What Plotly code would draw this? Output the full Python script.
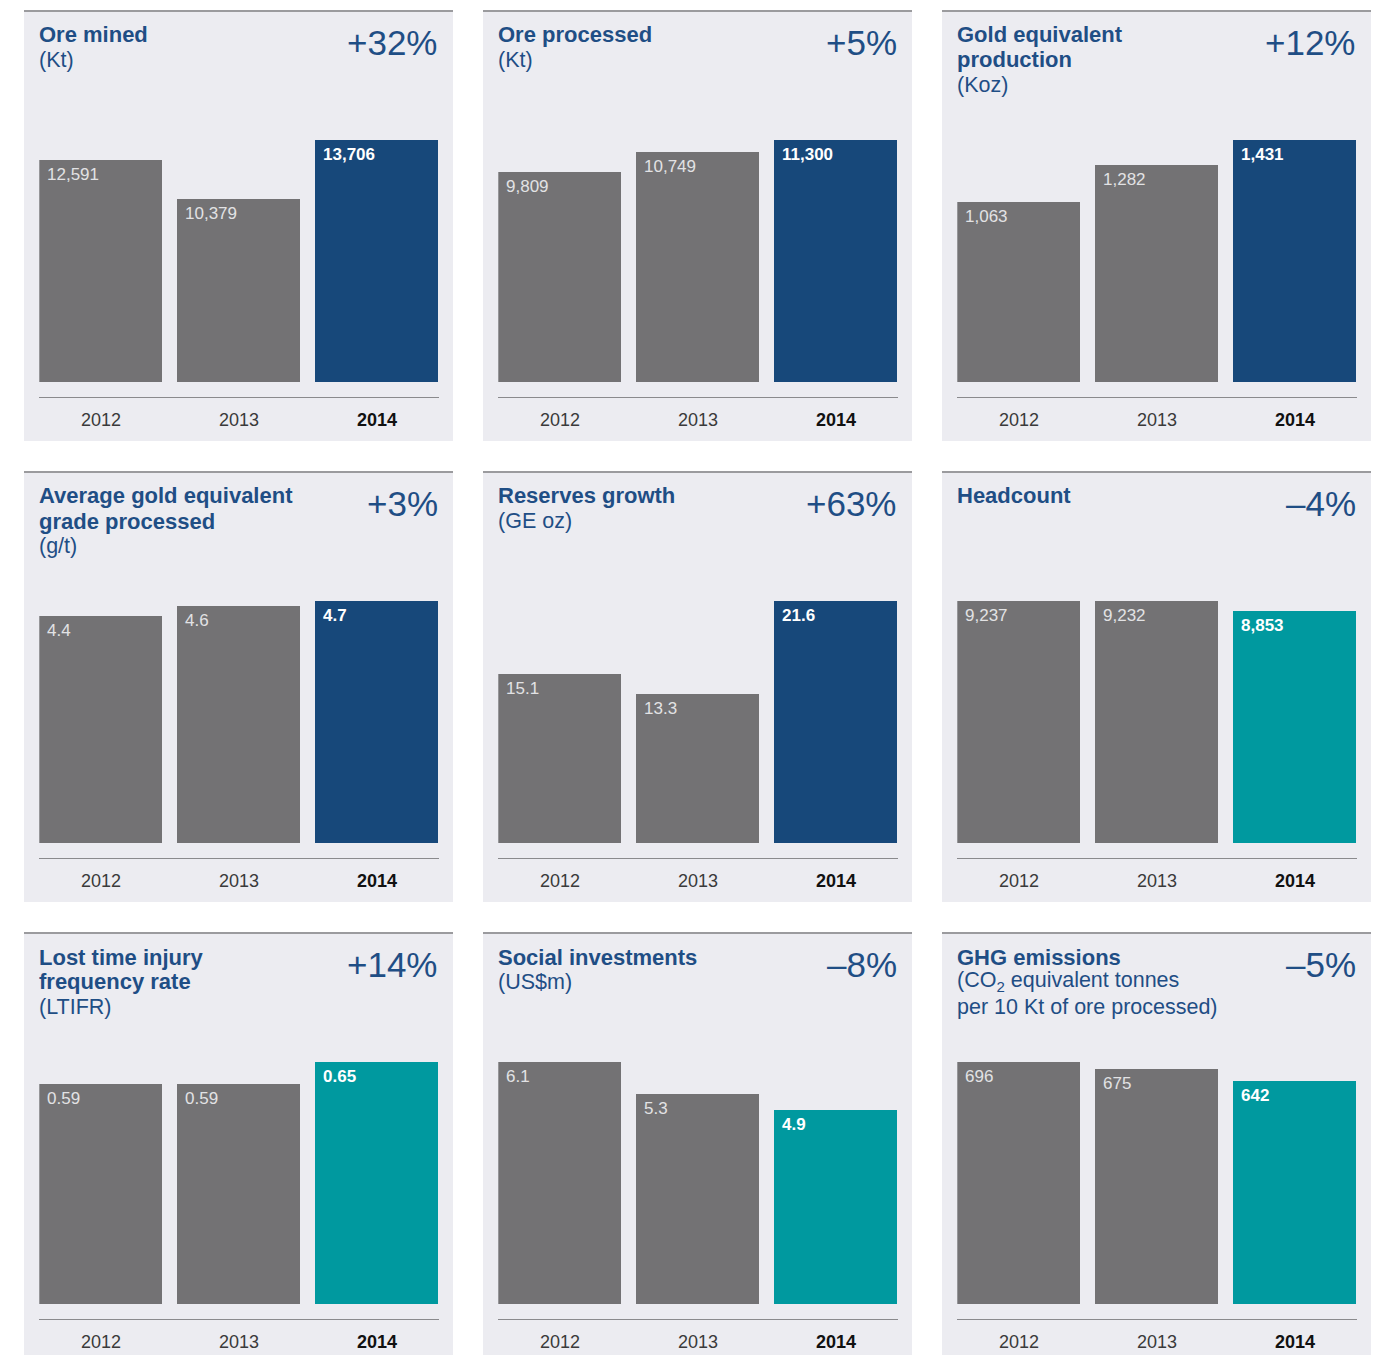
import plotly.graph_objects as go

# ---------------- data ----------------
years = ["2012", "2013", "2014"]

titles = [
    ["Ore mined"],
    ["Ore processed"],
    ["Gold equivalent", "production"],
    ["Average gold equivalent", "grade processed"],
    ["Reserves growth"],
    ["Headcount"],
    ["Lost time injury", "frequency rate"],
    ["Social investments"],
    ["GHG emissions"],
]
subtitles = [
    ["(Kt)"],
    ["(Kt)"],
    ["(Koz)"],
    ["(g/t)"],
    ["(GE oz)"],
    [],
    ["(LTIFR)"],
    ["(US$m)"],
    ["(CO<sub>2</sub> equivalent tonnes", "per 10 Kt of ore processed)"],
]
changes = ["+32%", "+5%", "+12%", "+3%", "+63%", "–4%", "+14%", "–8%", "–5%"]

ore_mined = [12591, 10379, 13706]
ore_processed = [9809, 10749, 11300]
gold_eq_production = [1063, 1282, 1431]
avg_grade = [4.4, 4.6, 4.7]
reserves_growth = [15.1, 13.3, 21.6]
headcount = [9237, 9232, 8853]
ltifr = [0.59, 0.59, 0.65]
social_investments = [6.1, 5.3, 4.9]
ghg_emissions = [696, 675, 642]

series = [ore_mined, ore_processed, gold_eq_production, avg_grade, reserves_growth,
          headcount, ltifr, social_investments, ghg_emissions]
highlight = ["blue", "blue", "blue", "blue", "blue", "teal", "teal", "teal", "teal"]

# ---------------- style ----------------
W, H = 1382, 1355
GRAY = "#737274"
BLUE = "#17487A"
TEAL = "#00999F"
BG = "#ECECF1"
TITLE_C = "#1F4E85"
FONT = "Liberation Sans, Arial, sans-serif"
BAR_W = 0.893

def px(x):
    return x / W

def py(y):
    return 1 - y / H

fig = go.Figure()
shapes = []
annotations = []
layout = {}

for k, vals in enumerate(series):
    r, c = divmod(k, 3)
    ox = 24 + 459 * c
    oy = 10 + 461 * r
    n = k + 1
    xid = f"x{n}" if n > 1 else "x"
    yid = f"y{n}" if n > 1 else "y"
    xkey = f"xaxis{n}" if n > 1 else "xaxis"
    ykey = f"yaxis{n}" if n > 1 else "yaxis"

    hi = BLUE if highlight[k] == "blue" else TEAL
    colors = [GRAY, GRAY, hi]
    xs = list(range(len(vals)))
    fig.add_trace(go.Bar(
        x=xs, y=vals, width=BAR_W, marker=dict(color=colors, line=dict(width=0)),
        xaxis=xid, yaxis=yid, showlegend=False, hoverinfo="skip",
    ))

    # panel background & top rule
    bottom = min(oy + 431, H)
    shapes.append(dict(type="rect", xref="paper", yref="paper", layer="below",
                       x0=px(ox), x1=px(ox + 429), y0=py(bottom), y1=py(oy),
                       fillcolor=BG, line=dict(width=0)))
    shapes.append(dict(type="line", xref="paper", yref="paper",
                       x0=px(ox), x1=px(ox + 429), y0=py(oy + 1), y1=py(oy + 1),
                       line=dict(color="#9B9B9E", width=2)))

    # axes: bar base at oy+371.7, axis line at oy+387.3, max bar top at oy+130
    vmax = max(vals)
    span = 371.7 - 130
    below = 387.3 - 371.7
    layout[xkey] = dict(
        domain=[px(ox + 15.3), px(ox + 414.7)], anchor=yid,
        range=[-BAR_W / 2, len(vals) - 1 + BAR_W / 2],
        showgrid=False, zeroline=False, showline=True, linecolor="#8A8A8D", linewidth=1,
        tickvals=xs,
        ticktext=[f"<span style='color:#3a3a3a'>{years[0]}</span>",
                  f"<span style='color:#3a3a3a'>{years[1]}</span>",
                  f"<b><span style='color:#111111'>{years[2]}</span></b>"],
        ticks="", ticklabelstandoff=6,
        tickfont=dict(family=FONT, size=18, color="#3a3a3a"),
        fixedrange=True,
    )
    layout[ykey] = dict(
        domain=[py(oy + 387.3), py(oy + 130)], anchor=xid,
        range=[-vmax * below / span, vmax],
        showgrid=False, zeroline=False, showline=False, showticklabels=False,
        fixedrange=True,
    )

    # value labels inside bars (top-left)
    for i, v in enumerate(vals):
        is_hi = i == len(vals) - 1
        txt = f"{v:,}"
        annotations.append(dict(
            xref=xid, yref=yid, x=i - BAR_W / 2, y=v, xanchor="left", yanchor="top",
            xshift=6, yshift=-3, showarrow=False,
            text=f"<b>{txt}</b>" if is_hi else txt,
            font=dict(family=FONT, size=17, color="#FFFFFF" if is_hi else "#E2E2E4"),
        ))

    # titles
    line_y = oy + 25
    for t in titles[k]:
        annotations.append(dict(
            xref="paper", yref="paper", x=px(ox + 13), y=py(line_y),
            xanchor="left", yanchor="middle", showarrow=False,
            text=f"<b>{t}</b>", font=dict(family=FONT, size=22, color=TITLE_C),
        ))
        line_y += 25
    for t in subtitles[k]:
        annotations.append(dict(
            xref="paper", yref="paper", x=px(ox + 13), y=py(line_y),
            xanchor="left", yanchor="middle", showarrow=False,
            text=t, font=dict(family=FONT, size=21.5, color=TITLE_C),
        ))
        line_y += 25

    # change %
    annotations.append(dict(
        xref="paper", yref="paper", x=px(ox + 416), y=py(oy + 32),
        xanchor="right", yanchor="middle", showarrow=False,
        text=changes[k], font=dict(family=FONT, size=35, color=TITLE_C),
    ))

fig.update_layout(
    width=W, height=H, margin=dict(l=0, r=0, t=0, b=0, pad=0),
    paper_bgcolor="white", plot_bgcolor="rgba(0,0,0,0)",
    shapes=shapes, annotations=annotations, bargap=0,
    **layout,
)

fig.write_html("out.html", config={"displayModeBar": False})
